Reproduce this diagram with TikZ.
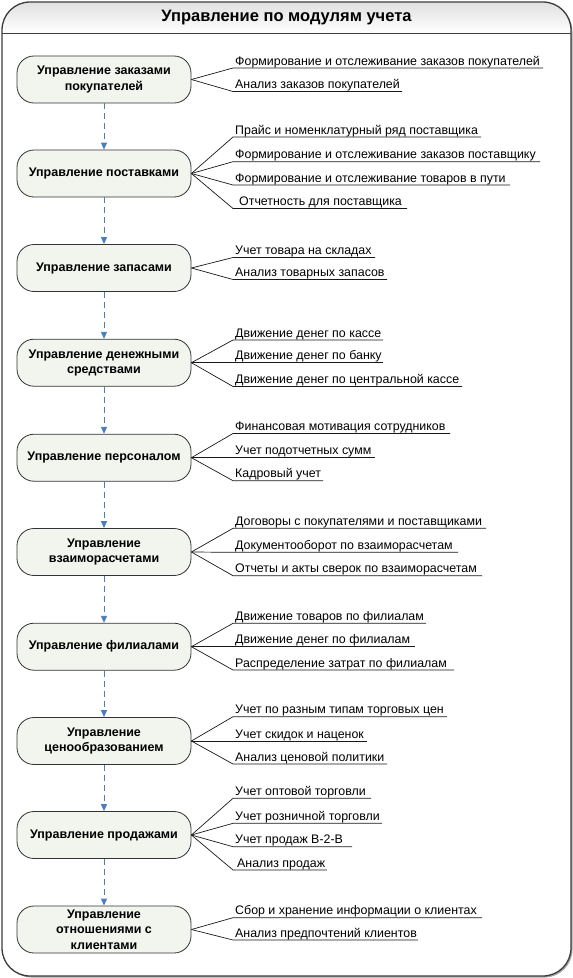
\documentclass[tikz,border=0pt]{standalone}
\usepackage{fontspec}
\setmainfont{Liberation Sans}
\usetikzlibrary{arrows.meta}
\definecolor{framec}{HTML}{3C3C3C}
\definecolor{boxfill}{HTML}{F1F5EE}
\definecolor{flowc}{HTML}{4A7EBB}
\newcommand{\modlabel}[5]{%
  \coordinate (#2s) at (233,#3);
  \coordinate (#2e) at (#4,#3);
  \node[itemtext] (#2) at (235,{#3-3}) {#5};
  \draw[fanline] (#1.east) -- (#2s) -- (#2e);
}
\begin{document}
\begin{tikzpicture}[x=1pt,y=-1pt,
  module/.style={draw=black!80, line width=0.8pt, fill=boxfill, rounded corners=17pt,
    minimum width=174pt, minimum height=47pt, align=center, inner sep=0pt,
    font=\bfseries\fontsize{12.5}{15.4}\selectfont},
  flow/.style={draw=flowc, line width=0.9pt, dash pattern=on 6pt off 4pt,
    -{Triangle[width=6pt,length=7pt]}},
  fanline/.style={draw=black!90, line width=0.7pt, line join=round},
  itemtext/.style={anchor=base west, inner sep=0pt, font=\fontsize{12.4}{14}\selectfont},
]
\useasboundingbox (0,0) rectangle (573,978);
% frame
\fill[black!35, rounded corners=28pt] (3.5,3.5) rectangle (572.5,977.5);
\fill[white, rounded corners=28pt] (2,2) rectangle (571,976);
\begin{scope}
  \clip[rounded corners=28pt] (2,2) rectangle (571,976);
  \shade[top color=black!12, bottom color=white] (2,2) rectangle (571,33);
\end{scope}
\draw[framec, line width=1.3pt, rounded corners=28pt] (2,2) rectangle (571,976);
\draw[framec, line width=1pt] (2,33) -- (571,33);
\node[font=\bfseries\fontsize{16.5}{18}\selectfont] (title) at (286.5,17.5) {Управление по модулям учета};

% modules
\node[module] (b1) at (104,79.5) {Управление заказами\\покупателей};
\node[module] (b2) at (104,173.5) {Управление поставками};
\node[module] (b3) at (104,268) {Управление запасами};
\node[module] (b4) at (104,362.7) {Управление денежными\\средствами};
\node[module] (b5) at (104,457.7) {Управление персоналом};
\node[module] (b6) at (104,552) {Управление\\взаиморасчетами};
\node[module] (b7) at (104,646.7) {Управление филиалами};
\node[module] (b8) at (104,741) {Управление\\ценообразованием};
\node[module] (b9) at (104,835) {Управление продажами};
\node[module] (b10) at (104,929.5) {Управление\\отношениями с\\клиентами};

\draw[flow] (b1) -- (b2);
\draw[flow] (b2) -- (b3);
\draw[flow] (b3) -- (b4);
\draw[flow] (b4) -- (b5);
\draw[flow] (b5) -- (b6);
\draw[flow] (b6) -- (b7);
\draw[flow] (b7) -- (b8);
\draw[flow] (b8) -- (b9);
\draw[flow] (b9) -- (b10);

% labels
\modlabel{b1}{l1a}{68}{543}{Формирование и отслеживание заказов покупателей}
\modlabel{b1}{l1b}{91.5}{402}{Анализ заказов покупателей}

\modlabel{b2}{l2a}{137}{481}{Прайс и номенклатурный ряд поставщика}
\modlabel{b2}{l2b}{161.7}{540}{Формирование и отслеживание заказов поставщику}
\modlabel{b2}{l2c}{185}{510}{Формирование и отслеживание товаров в пути}
\modlabel{b2}{l2d}{208.5}{407}{\hspace{4pt}Отчетность для поставщика}

\modlabel{b3}{l3a}{257.5}{375}{Учет товара на складах}
\modlabel{b3}{l3b}{279.5}{387}{Анализ товарных запасов}

\modlabel{b4}{l4a}{340}{383}{Движение денег по кассе}
\modlabel{b4}{l4b}{362.7}{383}{Движение денег по банку}
\modlabel{b4}{l4c}{386.5}{462}{Движение денег по центральной кассе}

\modlabel{b5}{l5a}{433.5}{450}{Финансовая мотивация сотрудников}
\modlabel{b5}{l5b}{457.7}{375}{Учет подотчетных сумм}
\modlabel{b5}{l5c}{480.7}{323}{Кадровый учет}

\modlabel{b6}{l6a}{528.3}{486}{Договоры с покупателями и поставщиками}
\modlabel{b6}{l6b}{552.3}{458}{Документооборот по взаиморасчетам}
\modlabel{b6}{l6c}{575.7}{482}{Отчеты и акты сверок по взаиморасчетам}

\modlabel{b7}{l7a}{623.3}{426}{Движение товаров по филиалам}
\modlabel{b7}{l7b}{646.7}{415}{Движение денег по филиалам}
\modlabel{b7}{l7c}{670}{454}{Распределение затрат по филиалам}

\modlabel{b8}{l8a}{716.7}{447}{Учет по разным типам торговых цен}
\modlabel{b8}{l8b}{741}{367}{Учет скидок и наценок}
\modlabel{b8}{l8c}{764}{387}{Анализ ценовой политики}

\modlabel{b9}{l9a}{798.3}{371}{Учет оптовой торговли}
\modlabel{b9}{l9b}{823.3}{382}{Учет розничной торговли}
\modlabel{b9}{l9c}{846.7}{352}{Учет продаж B-2-B}
\modlabel{b9}{l9d}{870}{327}{\hspace{2pt}Анализ продаж}

\modlabel{b10}{l10a}{917.7}{482}{Сбор и хранение информации о клиентах}
\modlabel{b10}{l10b}{940}{418}{Анализ предпочтений клиентов}
\end{tikzpicture}
\end{document}
